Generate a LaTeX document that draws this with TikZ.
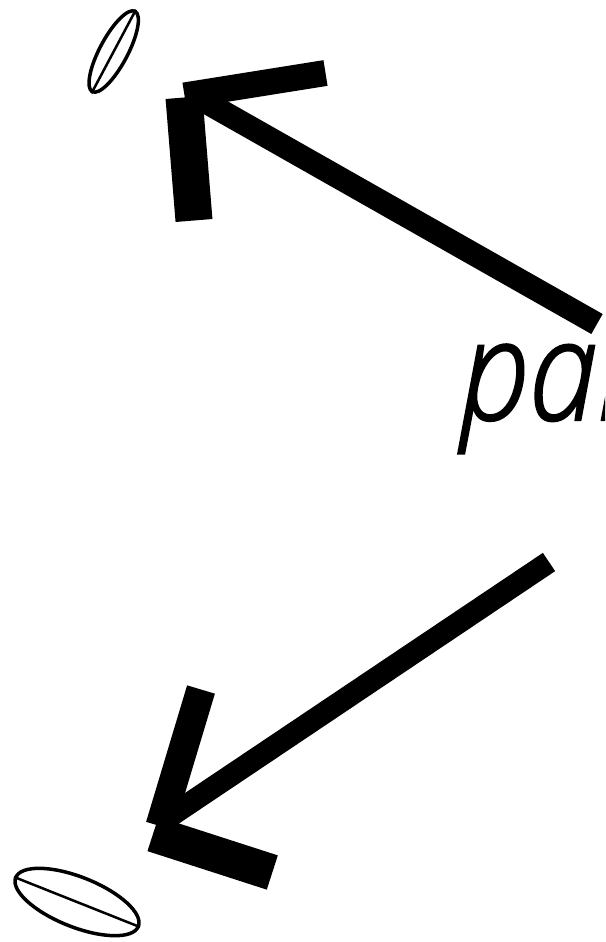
\documentclass[tikz,border=0pt]{standalone}
\usepackage{fontspec}
\IfFontExistsTF{Open Sans Light Italic}
  {\newfontfamily\labelfont{Open Sans Light Italic}[FakeStretch=0.88, FakeBold=1.5]}
  {\newfontfamily\labelfont{Open Sans Italic}[FakeStretch=0.88]}
\usetikzlibrary{shapes.geometric}
\tikzset{
  disk/.style={draw, ellipse, inner sep=0pt, line width=3.5pt},
  shaft/.style={line width=23pt, line cap=butt},
  barb/.style={line cap=butt}
}
\begin{document}
\begin{tikzpicture}[x=1pt,y=-1pt]
\useasboundingbox (0,0) rectangle (605,942);
\clip (0,0) rectangle (605,942);

% the two disks
\node[disk, minimum width=91pt, minimum height=28pt, rotate=62] (topdisk) at (113.7,51.5) {};
\draw[line width=2.5pt] (topdisk.west) -- (topdisk.east);
\node[disk, minimum width=132pt, minimum height=50pt, rotate=-21.7] (lowdisk) at (77,902) {};
\draw[line width=2.5pt] (lowdisk.west) -- (lowdisk.east);

% label
\node[anchor=base west, inner sep=0pt, font=\labelfont\fontsize{140}{150}\selectfont] (label) at (460,420) {par};

% upper arrow
\coordinate (tailA) at (597,324);
\coordinate (tipA) at (195,96);
\draw[shaft] (tailA) -- (tipA);
\draw[barb, line width=37pt] (194,220.5) -- (184,97.5);
\draw[barb, line width=26pt] (184.5,95.5) -- (325.5,73);

% lower arrow
\coordinate (tailB) at (549,562);
\coordinate (tipB) at (160,823);
\draw[shaft, line width=22pt] (tailB) -- (tipB);
\draw[barb, line width=29pt] (201,689.5) -- (160,826);
\draw[barb, line width=36pt] (153,834) -- (272.3,872.5);
\end{tikzpicture}
\end{document}
